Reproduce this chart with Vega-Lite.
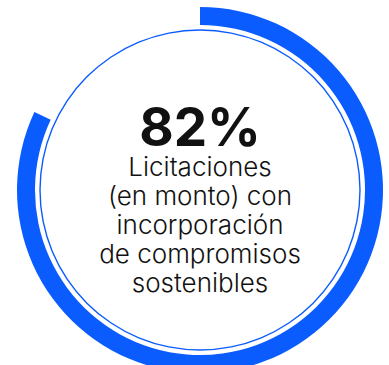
{
  "$schema": "https://vega.github.io/schema/vega-lite/v6.json",
  "width": 378,
  "height": 350,
  "autosize": "none",
  "padding": {"left": 11, "top": 15, "right": 0, "bottom": 0},
  "background": "white",
  "view": {"stroke": null},
  "layer": [
    {
      "data": {"values": [{"category": "with", "value": 82}, {"category": "without", "value": 18}]},
      "mark": {"type": "arc", "outerRadius": 183, "innerRadius": 165},
      "encoding": {
        "theta": {"field": "value", "type": "quantitative", "stack": true},
        "order": {"field": "category"},
        "color": {"field": "category", "type": "nominal", "scale": {"domain": ["with", "without"], "range": ["#0B5CFF", "rgba(0,0,0,0)"]}, "legend": null}
      }
    },
    {
      "data": {"values": [{"value": 100}]},
      "mark": {"type": "arc", "outerRadius": 160.7, "innerRadius": 159.3, "color": "#0B5CFF"},
      "encoding": {"theta": {"field": "value", "type": "quantitative"}}
    },
    {
      "data": {"values": [{"label": "82%"}]},
      "mark": {"type": "text", "font": "Inter", "fontWeight": "bold", "fontSize": 53, "baseline": "alphabetic", "align": "center", "dy": -44, "color": "#111111"},
      "encoding": {"text": {"field": "label"}}
    },
    {
      "data": {"values": [{"desc": ["Licitaciones", "(en monto) con", "incorporación", "de compromisos", "sostenibles"]}]},
      "mark": {"type": "text", "font": "Inter", "fontWeight": 300, "fontSize": 26, "lineHeight": 29, "baseline": "alphabetic", "align": "center", "dy": -14, "color": "#111111"},
      "encoding": {"text": {"field": "desc"}}
    }
  ]
}
